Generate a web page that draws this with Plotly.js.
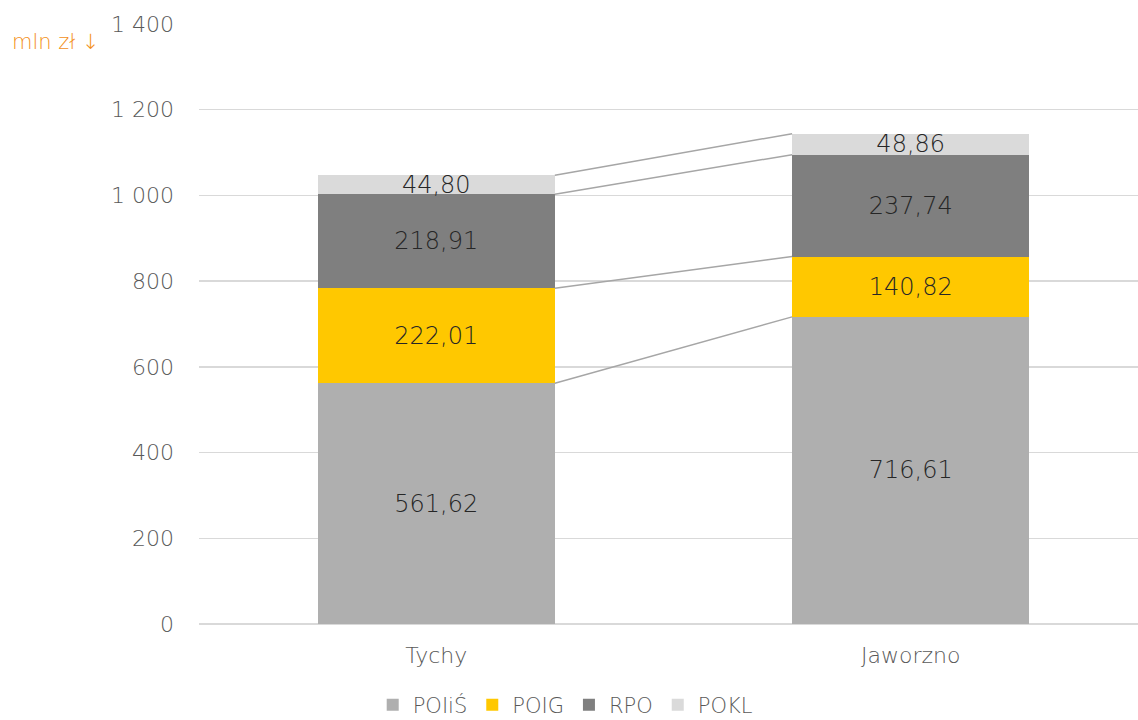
<!DOCTYPE html>
<html>
<head>
<meta charset="utf-8">
<script src="https://cdn.plot.ly/plotly-3.0.1.min.js"></script>
<style>html,body{margin:0;padding:0;background:#fff;}#chart{width:1138px;height:720px;}</style>
</head>
<body>
<div id="chart"></div>
<script>
const categories = ["Tychy", "Jaworzno"];
const seriesNames = ["POIiŚ", "POIG", "RPO", "POKL"];
const POIiS = [561.62, 716.61];
const POIG = [222.01, 140.82];
const RPO = [218.91, 237.74];
const POKL = [44.80, 48.86];
const colors = ["#afafaf", "#ffc800", "#7f7f7f", "#dadada"];
const yTicks = [0, 200, 400, 600, 800, 1000, 1200, 1400];

const series = [POIiS, POIG, RPO, POKL];
const FONT = "'DejaVu Sans', sans-serif";
const fmt = v => v.toFixed(2).replace('.', ',');

const traces = series.map((vals, i) => ({
  type: 'bar',
  name: seriesNames[i],
  x: [0, 1],
  y: vals,
  width: 0.5,
  marker: {color: colors[i], line: {width: 0}},
  text: vals.map(fmt),
  textposition: 'inside',
  insidetextanchor: 'middle',
  constraintext: 'none',
  textfont: {family: FONT, size: 24, color: '#262626', weight: 200},
  hoverinfo: 'none'
}));

const shapes = [];
const cumA = [], cumB = [];
let a = 0, b = 0;
series.forEach(s => { a += s[0]; b += s[1]; cumA.push(a); cumB.push(b); });
for (let i = 0; i < series.length; i++) {
  shapes.push({type: 'line', xref: 'x', yref: 'y', x0: 0.25, x1: 0.75, y0: cumA[i], y1: cumB[i],
    line: {color: '#a6a6a6', width: 1.5}, layer: 'above'});
}

const layout = {
  width: 1138, height: 720,
  margin: {l: 199, r: 0, t: 24, b: 96, autoexpand: false},
  paper_bgcolor: '#ffffff', plot_bgcolor: '#ffffff',
  separators: ', ',
  barmode: 'stack',
  showlegend: true,
  font: {family: FONT, color: '#595959', size: 22, weight: 200},
  xaxis: {
    range: [-0.5, 1.479], tickmode: 'array', tickvals: [0, 1], ticktext: categories,
    showgrid: false, zeroline: false, showline: false, ticks: '',
    ticklabelstandoff: 16,
    tickfont: {family: FONT, size: 22, color: '#595959', weight: 200}, fixedrange: true
  },
  yaxis: {
    range: [0, 1400], tickmode: 'array', tickvals: yTicks, separatethousands: true,
    showgrid: true, gridcolor: '#d9d9d9', gridwidth: 1.5, zeroline: true, zerolinecolor: '#d9d9d9', zerolinewidth: 1.5,
    showline: false, ticks: '', ticklabelstandoff: 24,
    tickfont: {family: FONT, size: 22, color: '#595959', weight: 200}, fixedrange: true
  },
  legend: {
    orientation: 'h', x: 0.39, xanchor: 'center', y: -0.135, yanchor: 'middle',
    font: {family: FONT, size: 21, color: '#595959', weight: 200},
    itemwidth: 30, traceorder: 'normal'
  },
  shapes: shapes,
  annotations: [{
    xref: 'paper', yref: 'paper', x: -0.201, y: 0.97, xanchor: 'left', yanchor: 'middle',
    text: 'mln zł ↓', showarrow: false,
    font: {family: FONT, size: 21, color: '#f39019', weight: 200}
  }]
};

Plotly.newPlot('chart', traces, layout, {displayModeBar: false, staticPlot: true});
</script>
</body>
</html>
